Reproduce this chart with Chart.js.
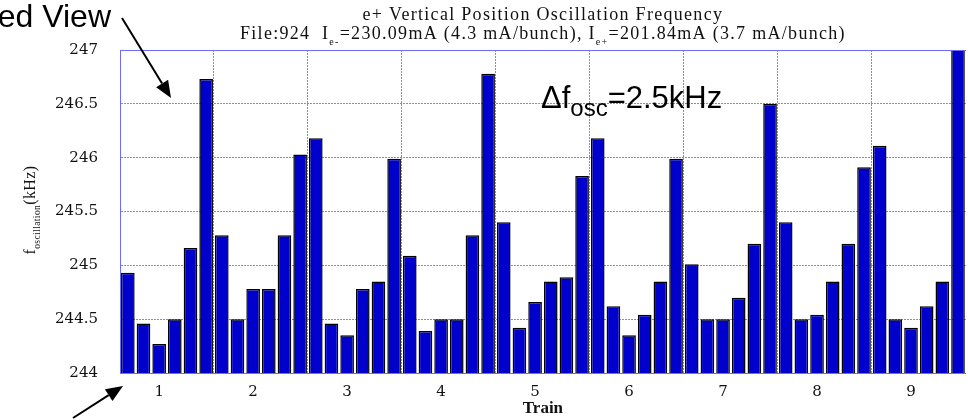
<!DOCTYPE html>
<html>
<head>
<meta charset="utf-8">
<script src="https://cdn.jsdelivr.net/npm/chart.js@4.4.1/dist/chart.umd.min.js"></script>
<style>
  html, body { margin: 0; padding: 0; background: #fff; }
  #wrap { width: 968px; height: 420px; }
</style>
</head>
<body>
<div id="wrap"><canvas id="myChart" width="968" height="420"></canvas></div>
<script>
// trains on the x axis, 6 bunches each
const trains = ['1', '2', '3', '4', '5', '6', '7', '8', '9'];
const bunchesPerTrain = 6;

// oscillation frequency per bunch (kHz)
const train1 = [244.93, 244.46, 244.27, 244.50, 245.16, 246.73];
const train2 = [245.28, 244.50, 244.78, 244.78, 245.28, 246.03];
const train3 = [246.18, 244.46, 244.35, 244.78, 244.85, 245.99];
const train4 = [245.09, 244.39, 244.50, 244.50, 245.28, 246.78];
const train5 = [245.40, 244.42, 244.66, 244.85, 244.89, 245.83];
const train6 = [246.18, 244.62, 244.35, 244.54, 244.85, 245.99];
const train7 = [245.01, 244.50, 244.50, 244.70, 245.20, 246.50];
const train8 = [245.40, 244.50, 244.54, 244.85, 245.20, 245.91];
const train9 = [246.11, 244.50, 244.42, 244.62, 244.85, 247.30];

const yMin = 244, yMax = 247, yStep = 0.5;

const freqs = [train1, train2, train3, train4, train5, train6, train7, train8, train9].flat();
const labels = [];
trains.forEach(t => {
  for (let b = 1; b <= bunchesPerTrain; b++) labels.push(t + '-' + b);
});

const gridBlue = '#8282ff';
const axisBlue = '#6b6bff';

// draw text pieces (normal / subscript) centred on x
function drawRun(ctx, parts, x, y, size, subSize, subDrop, family, weight) {
  let total = 0;
  parts.forEach(p => {
    ctx.font = weight + ' ' + (p[1] ? subSize : size) + 'px ' + family;
    total += ctx.measureText(p[0]).width;
  });
  let cx = x - total / 2;
  ctx.textAlign = 'left';
  ctx.textBaseline = 'alphabetic';
  parts.forEach(p => {
    ctx.font = weight + ' ' + (p[1] ? subSize : size) + 'px ' + family;
    ctx.fillText(p[0], cx, p[1] ? y + subDrop : y);
    cx += ctx.measureText(p[0]).width;
  });
}

function arrow(ctx, x1, y1, x2, y2) {
  const ang = Math.atan2(y2 - y1, x2 - x1);
  const len = 17, half = 7;
  const bx = x2 - len * Math.cos(ang), by = y2 - len * Math.sin(ang);
  ctx.beginPath();
  ctx.moveTo(x1, y1);
  ctx.lineTo(bx, by);
  ctx.lineWidth = 2;
  ctx.strokeStyle = '#000';
  ctx.stroke();
  ctx.beginPath();
  ctx.moveTo(x2, y2);
  ctx.lineTo(bx + half * Math.sin(ang), by - half * Math.cos(ang));
  ctx.lineTo(bx - half * Math.sin(ang), by + half * Math.cos(ang));
  ctx.closePath();
  ctx.fillStyle = '#000';
  ctx.fill();
}

// titles, axis label with subscripts, annotations
const overlayText = {
  id: 'overlayText',
  afterDraw(chart) {
    const { ctx, chartArea: { left, top, right } } = chart;
    ctx.save();

    // top edge of plot box
    ctx.beginPath();
    ctx.moveTo(left, top + 0.5);
    ctx.lineTo(right, top + 0.5);
    ctx.strokeStyle = axisBlue;
    ctx.lineWidth = 1;
    ctx.stroke();

    ctx.fillStyle = '#111';
    ctx.letterSpacing = '1.3px';
    const mid = (left + right) / 2;
    drawRun(ctx, [['e+ Vertical Position Oscillation Frequency', false]],
      mid, 20, 18, 10, 0, '"Liberation Serif"', 'normal');
    drawRun(ctx, [
      ['File:924  I', false], ['e-', true],
      ['=230.09mA (4.3 mA/bunch), I', false], ['e+', true],
      ['=201.84mA (3.7 mA/bunch)', false]
    ], mid, 39, 18, 10, 6, '"Liberation Serif"', 'normal');

    // y axis label
    ctx.save();
    ctx.translate(35, 210);
    ctx.rotate(-Math.PI / 2);
    ctx.letterSpacing = '0.4px';
    drawRun(ctx, [['f', false], ['oscillation', true], ['(kHz)', false]],
      0, 0, 16, 9.5, 5, '"Liberation Serif"', 'normal');
    ctx.restore();

    ctx.letterSpacing = '0px';
    ctx.fillStyle = '#000';
    ctx.font = '32px "Liberation Sans"';
    ctx.textAlign = 'right';
    ctx.fillText('Zoomed View', 111, 27);
    arrow(ctx, 122, 18, 171, 98);
    arrow(ctx, 73, 418, 123, 386);

    ctx.textAlign = 'left';
    let x = 541;
    ctx.font = '31px "Liberation Sans"';
    ctx.fillText('\u0394f', x, 108);
    x += ctx.measureText('\u0394f').width;
    ctx.font = '24px "Liberation Sans"';
    ctx.fillText('osc', x, 116);
    x += ctx.measureText('osc').width;
    ctx.font = '31px "Liberation Sans"';
    ctx.fillText('=2.5kHz', x, 108);

    ctx.restore();
  }
};

const data = {
  labels: labels,
  datasets: [{
    data: freqs,
    backgroundColor: '#0000cc',
    borderColor: '#000',
    borderWidth: 1.5,
    barPercentage: 0.87,
    categoryPercentage: 1.0
  }]
};

const config = {
  type: 'bar',
  data,
  options: {
    responsive: false,
    animation: false,
    layout: { padding: { top: 50, left: 0, right: 0, bottom: 0 } },
    plugins: {
      legend: { display: false },
      tooltip: { enabled: false },
      title: { display: false }
    },
    scales: {
      x: {
        z: 1,
        afterFit(scale) { scale.height = 47; },
        // in v4 border.dash is what dashes the grid lines
        border: { color: axisBlue, width: 1, dash: [2, 1] },
        grid: {
          offset: true,
          drawTicks: false,
          lineWidth: 1,
          color: (c) => (c.index > 0 && c.index % bunchesPerTrain === 0) ? gridBlue : 'rgba(0,0,0,0)'
        },
        ticks: {
          autoSkip: false,
          maxRotation: 0,
          padding: 10,
          color: '#111',
          font: { family: '"DejaVu Serif"', size: 15 },
          callback: (v, i) => (i % bunchesPerTrain === 2) ? trains[Math.floor(i / bunchesPerTrain)] : ''
        },
        title: {
          display: true,
          text: 'Train',
          color: '#111',
          padding: { top: 0, bottom: 1 },
          font: { family: '"Liberation Serif"', size: 17, weight: 'bold' }
        }
      },
      y: {
        min: yMin,
        max: yMax,
        afterFit(scale) { scale.width = 120; },
        border: { color: axisBlue, width: 1, dash: [2, 1] },
        grid: {
          drawTicks: false,
          color: gridBlue,
          lineWidth: 1
        },
        ticks: {
          stepSize: yStep,
          padding: 22,
          color: '#111',
          font: { family: '"DejaVu Serif"', size: 15 },
          callback: (v) => String(v)
        }
      }
    }
  },
  plugins: [overlayText]
};

const myChart = new Chart(document.getElementById('myChart'), config);
</script>
</body>
</html>
